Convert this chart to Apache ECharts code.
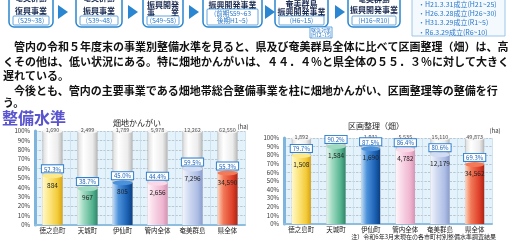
<!DOCTYPE html>
<html>
<head>
<meta charset="utf-8">
<script src="https://cdn.jsdelivr.net/npm/echarts@6/dist/echarts.min.js"></script>
<style>
    html, body { margin: 0; padding: 0; background: #fff; }
    #chart { width: 517px; height: 240px; }
</style>
</head>
<body>
<div id="chart"></div>
<script>
// 整備水準 (令和5年度末)
const categories = ['徳之島町', '天城町', '伊仙町', '管内全体', '奄美群島', '県全体'];
// 畑地かんがい
const irrigationRate = [52.3, 38.7, 45.0, 44.4, 59.5, 55.3];
const irrigationArea = ['884', '967', '805', '2,656', '7,296', '34,590'];
const irrigationTotal = ['1,690', '2,499', '1,789', '5,978', '12,262', '62,550'];
// 区画整理(畑)
const plotRate = [79.7, 90.2, 87.5, 86.4, 80.6, 69.3];
const plotArea = ['1,508', '1,584', '1,690', '4,782', '12,179', '34,562'];
const plotTotal = ['1,892', '1,756', '1,931', '5,535', '15,110', '49,873'];

const FONT = '"Noto Sans CJK JP", sans-serif';

// 棒の色 (左:明 → 右:暗)
const barColors = [
    ['#fff8cc', '#fde98a', '#f3cb3a', '#d7a414'],
    ['#e2f4ec', '#9fdac2', '#55b38f', '#2d876a'],
    ['#c4ddf5', '#4c92da', '#1a5fb2', '#0d3f80'],
    ['#fff4f9', '#f9d8e7', '#efb6d0', '#d794b3'],
    ['#f2f5fc', '#d2dcf2', '#adbde4', '#8b9dcf'],
    ['#fcd6c0', '#f27a58', '#de3f2a', '#ab2516'],
];
const shellColor = ['#dcdcdc', '#ffffff', '#ececec', '#b9b9b9'];

function grad(c) {
    return new echarts.graphic.LinearGradient(0, 0, 1, 0, [
        { offset: 0, color: c[0] },
        { offset: 0.3, color: c[1] },
        { offset: 0.75, color: c[2] },
        { offset: 1, color: c[3] },
    ]);
}

function makeSeries(idx, rates, areas, totals, bw) {
    const full = categories.map(() => 100);
    return [
        // 外側の円柱 (100%)
        {
            type: 'bar', xAxisIndex: idx, yAxisIndex: idx, barWidth: bw, barGap: '-100%', z: 2, silent: true,
            data: full,
            itemStyle: { color: grad(shellColor), borderColor: '#a9a9a9', borderWidth: 0.5 },
        },
        // 整備済み
        {
            type: 'bar', xAxisIndex: idx, yAxisIndex: idx, barWidth: bw, barGap: '-100%', z: 3, silent: true,
            data: rates.map((v, i) => ({ value: v, itemStyle: { color: grad(barColors[i]) } })),
        },
        // 面積ラベル
        {
            type: 'bar', xAxisIndex: idx, yAxisIndex: idx, barWidth: bw, barGap: '-100%', z: 6, silent: true,
            data: rates,
            itemStyle: { color: 'rgba(0,0,0,0)' },
            label: {
                show: true, position: 'insideTop', distance: 6, fontSize: 6.5, fontFamily: FONT, color: '#222',
                formatter: p => areas[p.dataIndex],
            },
        },
        // 円柱の上面
        {
            type: 'pictorialBar', xAxisIndex: idx, yAxisIndex: idx, symbol: 'circle', symbolSize: [bw, 5],
            symbolPosition: 'end', symbolOffset: [0, '-50%'], z: 4, silent: true,
            data: full,
            itemStyle: { color: '#f6f6f6', borderColor: '#a0a0a0', borderWidth: 0.5 },
            label: {
                show: true, position: 'top', distance: -4, fontSize: 5.5, fontFamily: FONT, color: '#555',
                formatter: p => totals[p.dataIndex],
            },
        },
        // 整備済み上面 + 率
        {
            type: 'pictorialBar', xAxisIndex: idx, yAxisIndex: idx, symbol: 'circle', symbolSize: [bw, 5],
            symbolPosition: 'end', symbolOffset: [0, '-50%'], z: 5, silent: true,
            data: rates.map((v, i) => ({ value: v, itemStyle: { color: barColors[i][1] } })),
            label: {
                show: true, position: 'top', distance: 1, fontSize: 6, fontFamily: FONT, color: '#1d63b8',
                backgroundColor: '#fff', borderColor: '#2f80d0', borderWidth: 1, padding: [1, 2, 0, 2],
                formatter: p => p.value.toFixed(1) + '%',
            },
        },
    ];
}

function xAxisOf(idx) {
    return {
        type: 'category', gridIndex: idx, data: categories,
        axisTick: { show: false },
        axisLine: { lineStyle: { color: '#8fbddd', width: 2 } },
        axisLabel: { fontSize: 6.5, fontFamily: FONT, color: '#222', margin: 2, interval: 0 },
        splitLine: { show: true, lineStyle: { color: '#c6dcec', width: 0.8 } },
    };
}

function yAxisOf(idx) {
    return {
        type: 'value', gridIndex: idx, min: 0, max: 100, interval: 10,
        axisLine: { show: true, lineStyle: { color: '#7fb4dc', width: 3 } },
        axisTick: { show: false },
        axisLabel: { fontSize: 6, fontFamily: FONT, color: '#333', margin: 5, formatter: '{value}%' },
        splitLine: { lineStyle: { color: '#9aaab6', type: 'dashed', width: 0.6 } },
    };
}

// 上部の事業フロー
const flowBoxes = [
    { x: 9, w: 44, lines: [['奄美群島', -2], ['復興事業', 11]], year: ['(S29~38)'] },
    { x: 76, w: 46, lines: [['奄美群島', -2], ['振興事業', 11]], year: ['(S39~48)'] },
    { x: 143, w: 40, lines: [['奄美群島', -4], ['振興開発', 5], ['事　　業', 13]], year: ['(S49~58)'] },
    { x: 203, w: 59, lines: [['奄美群島', -4], ['振興開発事業', 5]], year: ['(前期S59~63', '後期H1~5)'] },
    { x: 275, w: 53, lines: [['奄美群島', 4], ['振興開発事業', 12]], year: ['(H6~15)'] },
    { x: 348, w: 52, lines: [['奄美群島', -1], ['振興開発事業', 10]], year: ['(H16~R10)'] },
];
const flowArrows = [58, 128, 189, 265, 335];
const lawLines = ['・H21.3.31成立(H21~25)', '・H26.3.28成立(H26~30)', '・H31.3.29成立(R1~5)', '・R6.3.29成立(R6~10)'];

const bodyLines = [
    ['　管内の令和５年度末の事業別整備水準を見ると、県及び奄美群島全体に比べて区画整理（畑）は、高', 46.5],
    ['くその他は、低い状況にある。特に畑地かんがいは、４４．４％と県全体の５５．３％に対して大きく', 61.5],
    ['遅れている。', 76],
    ['　今後とも、管内の主要事業である畑地帯総合整備事業を柱に畑地かんがい、区画整理等の整備を行', 90.5],
    ['う。', 103],
];

const graphics = [];
flowBoxes.forEach(b => {
    graphics.push({
        type: 'rect', shape: { x: b.x, y: -10, width: b.w, height: 37, r: 5 },
        style: { fill: '#fff', stroke: '#2a86d0', lineWidth: 1.5 },
    });
    b.lines.forEach(l => {
        graphics.push({
            type: 'text', x: b.x + b.w / 2, y: l[1],
            style: { text: l[0], font: 'bold 8px ' + FONT, fill: '#1a2a50', align: 'center', verticalAlign: 'middle' },
        });
    });
    const yh = b.year.length * 7 + 2;
    graphics.push({
        type: 'rect', shape: { x: b.x + 4, y: 25 - yh, width: b.w - 8, height: yh, r: 1 },
        style: { fill: '#fff', stroke: '#3b8fd6', lineWidth: 0.8 },
    });
    b.year.forEach((t, i) => {
        graphics.push({
            type: 'text', x: b.x + b.w / 2, y: 25 - yh + 4.5 + i * 7,
            style: { text: t, font: '6.5px ' + FONT, fill: '#2a78c8', align: 'center', verticalAlign: 'middle' },
        });
    });
});
flowArrows.forEach(x => {
    graphics.push({
        type: 'polygon', shape: { points: [[x, 5], [x + 10, 12], [x, 19]] },
        style: { fill: '#2a86d0' },
    });
});
graphics.push({
    type: 'rect', shape: { x: 310, y: 27, width: 22, height: 11 },
    style: { fill: '#fff', stroke: '#3b8fd6', lineWidth: 0.8 },
});
graphics.push({
    type: 'text', x: 321, y: 30,
    style: { text: '緊急対策', font: '5px ' + FONT, fill: '#2a78c8', align: 'center', verticalAlign: 'middle' },
});
graphics.push({
    type: 'text', x: 321, y: 35,
    style: { text: '(H12~15)', font: '5px ' + FONT, fill: '#2a78c8', align: 'center', verticalAlign: 'middle' },
});
graphics.push({
    type: 'rect', shape: { x: 412, y: -6, width: 93, height: 42 },
    style: { fill: '#f4f9fe', stroke: '#9cc6e8', lineWidth: 1 },
});
lawLines.forEach((t, i) => {
    graphics.push({
        type: 'text', x: 418, y: 4 + i * 9.3,
        style: { text: t, font: '7px ' + FONT, fill: '#2a78c8', verticalAlign: 'middle' },
    });
});
bodyLines.forEach(l => {
    graphics.push({
        type: 'text', x: 3, y: l[1],
        style: { text: l[0], font: 'bold 11px ' + FONT, fill: '#111', verticalAlign: 'middle' },
    });
});
graphics.push({
    type: 'text', x: 2, y: 118,
    style: { text: '整備水準', font: 'bold 16px ' + FONT, fill: '#5a55cf', verticalAlign: 'middle' },
});
graphics.push({
    type: 'text', x: 137, y: 123,
    style: { text: '畑地かんがい', font: '8px ' + FONT, fill: '#222', align: 'center', verticalAlign: 'middle' },
});
graphics.push({
    type: 'text', x: 376, y: 126,
    style: { text: '区画整理（畑）', font: '8px ' + FONT, fill: '#222', align: 'center', verticalAlign: 'middle' },
});
graphics.push({
    type: 'text', x: 243, y: 127,
    style: { text: '(ha)', font: '6px ' + FONT, fill: '#333', align: 'center', verticalAlign: 'middle' },
});
graphics.push({
    type: 'text', x: 495, y: 131,
    style: { text: '(ha)', font: '6px ' + FONT, fill: '#333', align: 'center', verticalAlign: 'middle' },
});
graphics.push({
    type: 'text', x: 496, y: 237,
    style: { text: '注）令和6年3月末現在の各市町村別整備水準調査結果', font: '6px ' + FONT, fill: '#222', align: 'right', verticalAlign: 'middle' },
});

const myChart = echarts.init(document.getElementById('chart'), null, { renderer: 'canvas' });
const option = {
    animation: false,
    backgroundColor: '#fff',
    grid: [
        { left: 35, top: 131, width: 210, height: 94, show: true, backgroundColor: '#e4f2fb', borderWidth: 0 },
        { left: 284, top: 138, width: 208, height: 86, show: true, backgroundColor: '#e4f2fb', borderWidth: 0 },
    ],
    xAxis: [xAxisOf(0), xAxisOf(1)],
    yAxis: [yAxisOf(0), yAxisOf(1)],
    series: [
        ...makeSeries(0, irrigationRate, irrigationArea, irrigationTotal, 20),
        ...makeSeries(1, plotRate, plotArea, plotTotal, 19),
    ],
    graphic: graphics,
};
myChart.setOption(option);
</script>
</body>
</html>
